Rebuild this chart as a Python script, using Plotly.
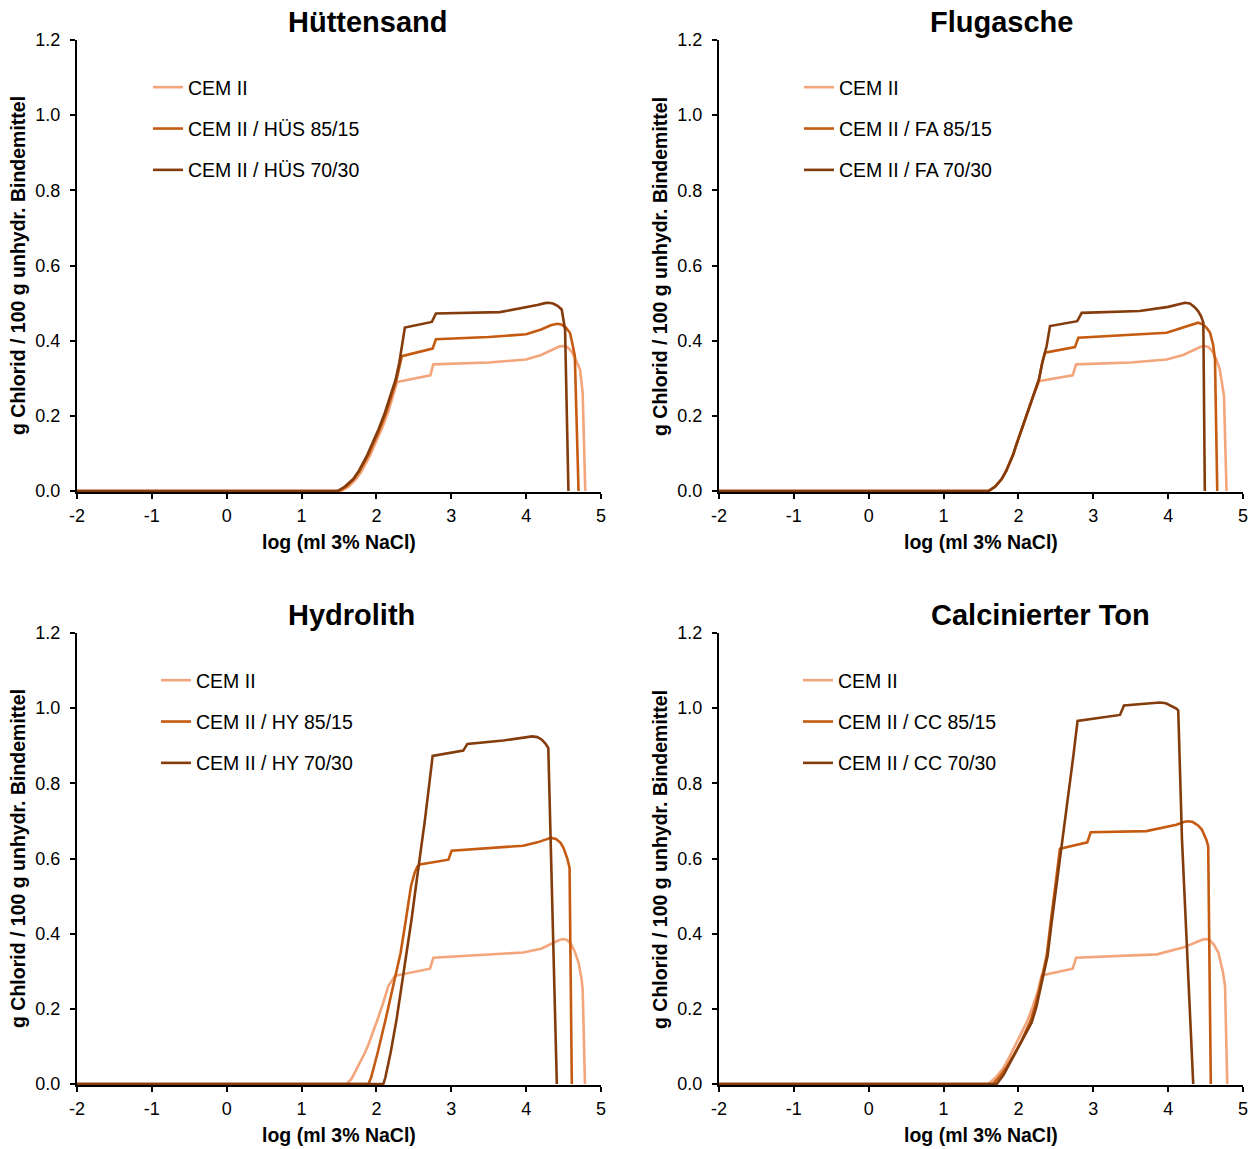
import plotly.graph_objects as go

# ---- series data: log(ml 3% NaCl) vs. g chloride / 100 g binder ----
series_names = {
    "hs": ["CEM II", "CEM II / HÜS 85/15", "CEM II / HÜS 70/30"],
    "fa": ["CEM II", "CEM II / FA 85/15", "CEM II / FA 70/30"],
    "hy": ["CEM II", "CEM II / HY 85/15", "CEM II / HY 70/30"],
    "cc": ["CEM II", "CEM II / CC 85/15", "CEM II / CC 70/30"],
}
panel_titles = {"hs": "Hüttensand", "fa": "Flugasche", "hy": "Hydrolith", "cc": "Calcinierter Ton"}

# Hüttensand
hs_cem_x = [-2, 1.53, 1.63, 1.73, 1.80, 1.865, 1.92, 1.97, 2.02, 2.07, 2.155, 2.225, 2.275, 2.72, 2.76, 3.5, 4.0, 4.2, 4.35, 4.45, 4.5, 4.55, 4.6, 4.65, 4.72, 4.755, 4.79]
hs_cem_y = [0, 0, 0.012, 0.032, 0.052, 0.076, 0.097, 0.12, 0.142, 0.165, 0.209, 0.253, 0.29, 0.308, 0.337, 0.342, 0.35, 0.362, 0.376, 0.385, 0.386, 0.383, 0.373, 0.355, 0.324, 0.262, 0]
hs_85_x = [-2, 1.50, 1.60, 1.70, 1.77, 1.84, 1.895, 1.945, 2.0, 2.045, 2.13, 2.205, 2.27, 2.32, 2.34, 2.75, 2.795, 3.5, 4.0, 4.2, 4.33, 4.41, 4.47, 4.53, 4.585, 4.62, 4.65, 4.70]
hs_85_y = [0, 0, 0.012, 0.032, 0.052, 0.076, 0.097, 0.12, 0.143, 0.165, 0.209, 0.253, 0.297, 0.342, 0.359, 0.379, 0.404, 0.41, 0.417, 0.43, 0.441, 0.445, 0.443, 0.435, 0.421, 0.39, 0.36, 0]
hs_70_x = [-2, 1.48, 1.58, 1.69, 1.76, 1.825, 1.88, 1.93, 1.98, 2.03, 2.114, 2.19, 2.257, 2.306, 2.337, 2.38, 2.74, 2.795, 3.65, 4.0, 4.15, 4.25, 4.30, 4.36, 4.42, 4.475, 4.52, 4.565]
hs_70_y = [0, 0, 0.012, 0.032, 0.052, 0.076, 0.097, 0.12, 0.143, 0.165, 0.209, 0.253, 0.297, 0.342, 0.386, 0.435, 0.45, 0.4726, 0.476, 0.488, 0.495, 0.5, 0.501, 0.499, 0.493, 0.483, 0.43, 0]

# Flugasche
fa_cem_x = [-2, 1.60, 1.69, 1.776, 1.835, 1.887, 1.93, 1.967, 2.043, 2.119, 2.199, 2.274, 2.288, 2.725, 2.77, 3.5, 3.98, 4.2, 4.35, 4.45, 4.49, 4.54, 4.59, 4.64, 4.69, 4.746, 4.78]
fa_cem_y = [0, 0, 0.012, 0.032, 0.053, 0.076, 0.097, 0.12, 0.165, 0.209, 0.253, 0.29, 0.293, 0.308, 0.337, 0.342, 0.35, 0.362, 0.376, 0.385, 0.386, 0.383, 0.372, 0.352, 0.324, 0.253, 0]
fa_85_x = [-2, 1.60, 1.69, 1.776, 1.835, 1.887, 1.93, 1.967, 2.043, 2.119, 2.199, 2.274, 2.319, 2.355, 2.755, 2.80, 3.98, 4.2, 4.33, 4.40, 4.46, 4.52, 4.56, 4.60, 4.626, 4.656]
fa_85_y = [0, 0, 0.012, 0.032, 0.053, 0.076, 0.097, 0.12, 0.165, 0.209, 0.253, 0.297, 0.342, 0.368, 0.383, 0.408, 0.421, 0.435, 0.445, 0.448, 0.444, 0.433, 0.421, 0.39, 0.35, 0]
fa_70_x = [-2, 1.60, 1.69, 1.776, 1.835, 1.887, 1.93, 1.967, 2.043, 2.119, 2.199, 2.274, 2.319, 2.355, 2.377, 2.422, 2.786, 2.845, 3.62, 4.0, 4.15, 4.225, 4.29, 4.35, 4.40, 4.44, 4.47, 4.49]
fa_70_y = [0, 0, 0.012, 0.032, 0.053, 0.076, 0.097, 0.12, 0.165, 0.209, 0.253, 0.297, 0.342, 0.368, 0.386, 0.439, 0.452, 0.474, 0.479, 0.49, 0.498, 0.501, 0.499, 0.49, 0.479, 0.465, 0.448, 0]

# Hydrolith
hy_cem_x = [-2, 1.603, 1.67, 1.736, 1.79, 1.848, 1.895, 1.937, 2.017, 2.092, 2.159, 2.248, 2.716, 2.76, 3.96, 4.2, 4.35, 4.45, 4.5, 4.55, 4.6, 4.65, 4.70, 4.74, 4.755, 4.786]
hy_cem_y = [0, 0, 0.015, 0.04, 0.061, 0.084, 0.106, 0.128, 0.173, 0.217, 0.261, 0.288, 0.307, 0.336, 0.35, 0.36, 0.375, 0.384, 0.386, 0.383, 0.372, 0.352, 0.323, 0.28, 0.252, 0]
hy_85_x = [-2, 1.893, 1.93, 1.96, 2.017, 2.124, 2.226, 2.324, 2.395, 2.462, 2.51, 2.545, 2.58, 2.961, 3.005, 3.96, 4.15, 4.27, 4.33, 4.40, 4.46, 4.50, 4.55, 4.58, 4.61]
hy_85_y = [0, 0, 0.018, 0.04, 0.084, 0.173, 0.261, 0.35, 0.439, 0.527, 0.562, 0.578, 0.584, 0.597, 0.621, 0.634, 0.643, 0.652, 0.655, 0.652, 0.642, 0.628, 0.6, 0.575, 0]
hy_70_x = [-2, 2.092, 2.12, 2.145, 2.19, 2.27, 2.337, 2.404, 2.47, 2.528, 2.59, 2.648, 2.702, 2.751, 3.16, 3.215, 3.695, 4.0, 4.08, 4.15, 4.21, 4.26, 4.296, 4.41]
hy_70_y = [0, 0, 0.018, 0.04, 0.084, 0.173, 0.261, 0.35, 0.439, 0.527, 0.615, 0.703, 0.792, 0.873, 0.887, 0.905, 0.914, 0.923, 0.925, 0.923, 0.916, 0.905, 0.894, 0]

# Calcinierter Ton
cc_cem_x = [-2, 1.598, 1.70, 1.80, 1.887, 1.96, 2.03, 2.11, 2.19, 2.266, 2.31, 2.725, 2.77, 3.85, 4.20, 4.40, 4.47, 4.515, 4.56, 4.61, 4.67, 4.73, 4.76, 4.79]
cc_cem_y = [0, 0, 0.018, 0.043, 0.0752, 0.105, 0.132, 0.164, 0.205, 0.252, 0.289, 0.307, 0.336, 0.345, 0.363, 0.38, 0.385, 0.386, 0.382, 0.371, 0.35, 0.3, 0.261, 0]
cc_85_x = [-2, 1.656, 1.75, 1.84, 1.932, 2.04, 2.154, 2.22, 2.279, 2.377, 2.431, 2.488, 2.555, 2.92, 2.965, 3.71, 4.11, 4.22, 4.27, 4.33, 4.40, 4.45, 4.51, 4.535, 4.57]
cc_85_y = [0, 0, 0.02, 0.045, 0.0752, 0.115, 0.164, 0.205, 0.252, 0.341, 0.43, 0.518, 0.626, 0.643, 0.67, 0.673, 0.69, 0.698, 0.699, 0.697, 0.688, 0.677, 0.65, 0.633, 0]
cc_70_x = [-2, 1.709, 1.80, 1.87, 1.932, 2.05, 2.177, 2.24, 2.29, 2.39, 2.444, 2.502, 2.564, 2.622, 2.68, 2.733, 2.79, 3.357, 3.41, 3.80, 3.89, 3.97, 4.05, 4.11, 4.135, 4.185, 4.335]
cc_70_y = [0, 0, 0.024, 0.05, 0.0752, 0.118, 0.164, 0.205, 0.252, 0.341, 0.43, 0.518, 0.606, 0.695, 0.783, 0.872, 0.966, 0.982, 1.007, 1.013, 1.015, 1.013, 1.006, 0.999, 0.994, 0.65, 0]

panel_data = {
    "hs": [(hs_cem_x, hs_cem_y), (hs_85_x, hs_85_y), (hs_70_x, hs_70_y)],
    "fa": [(fa_cem_x, fa_cem_y), (fa_85_x, fa_85_y), (fa_70_x, fa_70_y)],
    "hy": [(hy_cem_x, hy_cem_y), (hy_85_x, hy_85_y), (hy_70_x, hy_70_y)],
    "cc": [(cc_cem_x, cc_cem_y), (cc_85_x, cc_85_y), (cc_70_x, cc_70_y)],
}

x_ticks = [-2, -1, 0, 1, 2, 3, 4, 5]
y_ticks = [0.0, 0.2, 0.4, 0.6, 0.8, 1.0, 1.2]
line_colors = ["#F3A57C", "#C55A11", "#843C0C"]

W, H = 1259, 1149
FONT = "Liberation Sans, Arial, sans-serif"

# pixel boxes of the four plot areas: (left, right, top, bottom)
boxes = {
    "hs": (77, 601, 40, 492),
    "fa": (719, 1243, 40, 492),
    "hy": (77, 601, 633, 1085),
    "cc": (719, 1243, 633, 1085),
}
# legend anchor (left px, top px)
legend_pos = {"hs": (148, 68), "fa": (799, 68), "hy": (156, 661), "cc": (798, 661)}
# title centre (px)
title_pos = {"hs": (368, 22), "fa": (1001, 22), "hy": (351, 615), "cc": (1040, 615)}

fig = go.Figure()
layout = {}
annotations = []

for i, key in enumerate(["hs", "fa", "hy", "cc"]):
    n = i + 1
    xa = "x" if n == 1 else f"x{n}"
    ya = "y" if n == 1 else f"y{n}"
    leg = "legend" if n == 1 else f"legend{n}"
    left, right, top, bottom = boxes[key]

    for j, (xs, ys) in enumerate(panel_data[key]):
        fig.add_trace(go.Scatter(
            x=xs, y=ys, mode="lines", name=series_names[key][j],
            line=dict(color=line_colors[j], width=2.6),
            xaxis=xa, yaxis=ya, legend=leg, legendgroup=f"{key}{j}",
            hoverinfo="skip",
        ))

    axis_common = dict(
        showgrid=False, zeroline=False, showline=True, linecolor="black", linewidth=2,
        ticks="outside", ticklen=5, tickwidth=2, tickcolor="black",
        tickfont=dict(family=FONT, size=18, color="black"), automargin=False,
    )
    layout[f"xaxis{'' if n == 1 else n}"] = dict(
        axis_common, domain=[left / W, right / W], anchor=ya,
        range=[-2, 5], tickvals=x_ticks, ticktext=[str(v) for v in x_ticks],
        ticklabelstandoff=1,
    )
    layout[f"yaxis{'' if n == 1 else n}"] = dict(
        axis_common, domain=[1 - bottom / H, 1 - top / H], anchor=xa,
        range=[-0.0025, 1.2], tickvals=y_ticks, ticktext=[f"{v:.1f}" for v in y_ticks],
        ticklabelstandoff=6,
    )

    lx, ly = legend_pos[key]
    layout[leg] = dict(
        x=lx / W, y=1 - ly / H, xanchor="left", yanchor="top",
        font=dict(family=FONT, size=19.5, color="black"),
        bgcolor="rgba(0,0,0,0)", tracegroupgap=13, itemwidth=30,
    )

    tx, ty = title_pos[key]
    annotations.append(dict(
        text=f"<b>{panel_titles[key]}</b>", x=tx / W, y=1 - ty / H, xref="paper", yref="paper",
        showarrow=False, xanchor="center", yanchor="middle",
        font=dict(family=FONT, size=29, color="black"),
    ))
    # axis titles
    annotations.append(dict(
        text="<b>log (ml 3% NaCl)</b>", x=(left + right) / 2 / W, y=1 - (bottom + 50) / H,
        xref="paper", yref="paper", showarrow=False, xanchor="center", yanchor="middle",
        font=dict(family=FONT, size=19.5, color="black"),
    ))
    annotations.append(dict(
        text="<b>g Chlorid / 100 g unhydr. Bindemittel</b>", x=(left - 59) / W, y=1 - (top + bottom) / 2 / H,
        xref="paper", yref="paper", showarrow=False, xanchor="center", yanchor="middle", textangle=-90,
        font=dict(family=FONT, size=19.5, color="black"),
    ))

fig.update_layout(
    width=W, height=H, margin=dict(l=0, r=0, t=0, b=0, autoexpand=False),
    paper_bgcolor="white", plot_bgcolor="white",
    showlegend=True, annotations=annotations, **layout,
)

fig.write_html("out.html")
